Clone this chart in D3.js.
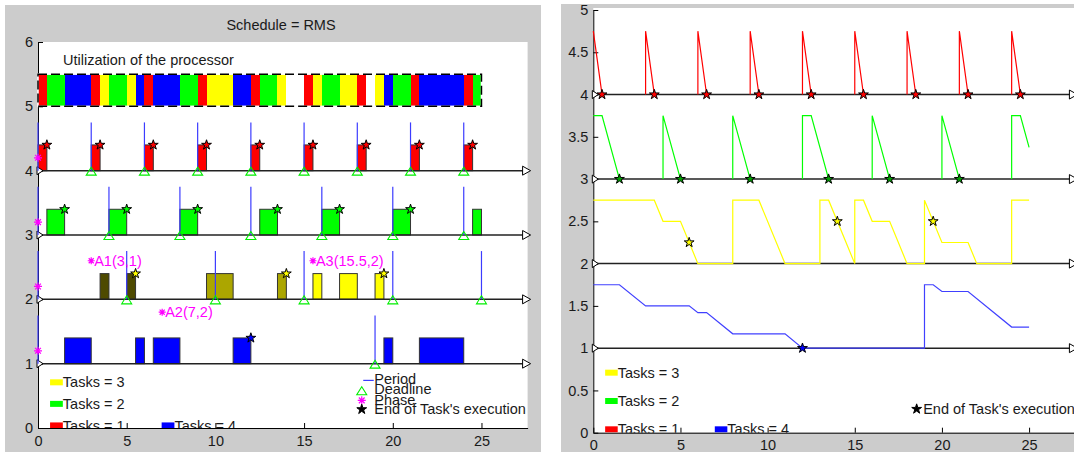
<!DOCTYPE html>
<html>
<head>
<meta charset="utf-8">
<script src="https://cdn.jsdelivr.net/npm/d3@7/dist/d3.min.js"></script>
<style>
  body { margin: 0; background: #fff; }
  svg text { font-family: "Liberation Sans", Arial, sans-serif; }
</style>
</head>
<body>
<svg id="chart" width="1074" height="452"></svg>
<script>
// ---- values ----
const xTicks = [0, 5, 10, 15, 20, 25];
const yTicksSchedule = [0, 1, 2, 3, 4, 5, 6];
const yTicksRemaining = [0, 0.5, 1, 1.5, 2, 2.5, 3, 3.5, 4, 4.5, 5];

const taskLabels = ["Tasks = 1", "Tasks = 2", "Tasks = 3", "Tasks = 4"];
const taskColors = ["#ff0000", "#00ff00", "#ffff00", "#0000ff"];
const curveColors = ["#ff0000", "#00ff00", "#ffff00", "#4040ff"];
const taskRows = [4, 3, 2, 1];

// execution slots [start, end]; task 3 slots carry the aperiodic job index
const execT1 = [[0, 0.5], [3, 3.5], [6, 6.5], [9, 9.5], [12, 12.5], [15, 15.5], [18, 18.5], [21, 21.5], [24, 24.5]];
const execT2 = [[0.5, 1.5], [4, 5], [8, 9], [12.5, 13.5], [16, 17], [20, 21], [24.5, 25]];
const execT3 = [[3.5, 4, 0], [5, 5.5, 0], [9.5, 11, 1], [13.5, 14, 1], [15.5, 16, 2], [17, 18, 2], [19, 19.5, 2]];
const execT4 = [[1.5, 3], [5.5, 6], [6.5, 8], [11, 12], [19.5, 20], [21.5, 24]];

const periodsT1 = [0, 3, 6, 9, 12, 15, 18, 21, 24];
const periodsT2 = [0, 4, 8, 12, 16, 20, 24];
const periodsT3 = [0, 5, 10, 15, 20, 25];
const periodsT4 = [0, 19];

const deadlinesT1 = [3, 6, 9, 12, 15, 18, 21, 24];
const deadlinesT2 = [4, 8, 12, 16, 20, 24];
const deadlinesT3 = [5, 10, 15, 20, 25];
const deadlinesT4 = [19];

const endsT1 = [0.5, 3.5, 6.5, 9.5, 12.5, 15.5, 18.5, 21.5, 24.5];
const endsT2 = [1.5, 5, 9, 13.5, 17, 21];
const endsT3 = [5.5, 14, 19.5];
const endsT4 = [12];

const aperiodicShades = ["#4e4a00", "#aca600", "#ffff00"];
const aperiodicNotes = ["A1(3,1)", "A2(7,2)", "A3(15.5,2)"];
const aperiodicArrival = [3, 7, 15.5];
const aperiodicNoteY = [2.6, 1.8, 2.6];

// right panel: remaining work curves (null = break in the line)
const remT1 = [[0, 4.75], [0.5, 4], null, [3, 4], [3, 4.75], [3.5, 4], null, [6, 4], [6, 4.75], [6.5, 4], null,
  [9, 4], [9, 4.75], [9.5, 4], null, [12, 4], [12, 4.75], [12.5, 4], null, [15, 4], [15, 4.75], [15.5, 4], null,
  [18, 4], [18, 4.75], [18.5, 4], null, [21, 4], [21, 4.75], [21.5, 4], null, [24, 4], [24, 4.75], [24.5, 4]];
const remT2 = [[0, 3.75], [0.5, 3.75], [1.5, 3], null, [4, 3], [4, 3.75], [5, 3], null, [8, 3], [8, 3.75], [9, 3], null,
  [12, 3], [12, 3.75], [12.5, 3.75], [13.5, 3], null, [16, 3], [16, 3.75], [17, 3], null,
  [20, 3], [20, 3.75], [21, 3], null, [24, 3], [24, 3.75], [24.5, 3.75], [25, 3.375]];
const remT3 = [[0, 2.75], [3.5, 2.75], [4, 2.5], [5, 2.5], [6, 2], [8, 2], [8, 2.75], [9.5, 2.75], [11, 2], [13, 2],
  [13, 2.75], [13.5, 2.75], [15, 2], [15, 2.75], [15.5, 2.75], [16, 2.5], [17, 2.5], [18, 2], [19, 2], [19, 2.75],
  [20, 2.25], [21.5, 2.25], [22, 2], [24, 2], [24, 2.75], [25, 2.75]];
const remT4 = [[0, 1.75], [1.5, 1.75], [3, 1.5], [5.5, 1.5], [6, 1.42], [6.5, 1.42], [8, 1.17], [11, 1.17], [12, 1],
  [19, 1], [19, 1.75], [19.5, 1.75], [20, 1.67], [21.5, 1.67], [24, 1.25], [25, 1.25]];

const remEndT1 = [4, 4, 4, 4, 4, 4, 4, 4, 4];
const remEndT2 = [3, 3, 3, 3, 3, 3];
const remEndT3 = [2.25, 2.5, 2.5];
const remEndT4 = [1];

const tasks = [
  { exec: execT1, periods: periodsT1, deadlines: deadlinesT1, ends: endsT1, rem: remT1, remEnd: remEndT1 },
  { exec: execT2, periods: periodsT2, deadlines: deadlinesT2, ends: endsT2, rem: remT2, remEnd: remEndT2 },
  { exec: execT3, periods: periodsT3, deadlines: deadlinesT3, ends: endsT3, rem: remT3, remEnd: remEndT3 },
  { exec: execT4, periods: periodsT4, deadlines: deadlinesT4, ends: endsT4, rem: remT4, remEnd: remEndT4 }
];

// ---- drawing ----
const svg = d3.select("#chart");
const FS = "14.5px";
const TXT = "#1a1a1a";
const star = d3.symbol(d3.symbolStar).size(30);
const triUp = "M-5,4L5,4L0,-4Z";
function asterisk(r) {
  const d = r * 0.72;
  return `M${-r},0H${r}M0,${-r}V${r}M${-d},${-d}L${d},${d}M${-d},${d}L${d},${-d}`;
}

const defs = svg.append("defs");
defs.append("clipPath").attr("id", "clipL").append("rect").attr("x", 0).attr("y", 0).attr("width", 541).attr("height", 428);
defs.append("clipPath").attr("id", "clipR").append("rect").attr("x", 561).attr("y", 0).attr("width", 513).attr("height", 432.7);

function drawAxes(g, x, y, yTicks, pad) {
  const ax = g.append("g").attr("transform", `translate(0,${y.range()[0]})`)
    .call(d3.axisBottom(x).tickValues(xTicks).tickSizeInner(-5).tickSizeOuter(0).tickPadding(pad).tickFormat(d => String(d)));
  const ay = g.append("g").attr("transform", `translate(${x.range()[0]},0)`)
    .call(d3.axisLeft(y).tickValues(yTicks).tickSizeInner(-5).tickSizeOuter(0).tickPadding(5).tickFormat(d => String(d)));
  [ax, ay].forEach(a => {
    a.attr("font-family", null).attr("font-size", null);
    a.selectAll("text").style("font-size", FS).attr("fill", TXT);
    a.selectAll("line, path").attr("stroke", "#000");
  });
}

function drawRows(g, x, y) {
  const xEnd = x.domain()[1];
  taskRows.forEach(r => {
    g.append("line").attr("x1", x(0)).attr("x2", x(xEnd)).attr("y1", y(r)).attr("y2", y(r))
      .attr("stroke", "#222").attr("stroke-width", 1.5);
    g.append("path").attr("d", `M${x(0) - 1},${y(r) - 4}L${x(0) + 5},${y(r)}L${x(0) - 1},${y(r) + 4}Z`)
      .attr("fill", "#fff").attr("stroke", "#000");
    g.append("path").attr("d", `M${x(xEnd) - 5},${y(r) - 4.5}L${x(xEnd) + 3},${y(r)}L${x(xEnd) - 5},${y(r) + 4.5}Z`)
      .attr("fill", "#fff").attr("stroke", "#000");
  });
}

function drawTaskLegend(g, x, y) {
  const items = [[2, 0.71, 0.68], [1, 0.375, 0.68], [0, 0.04, 0.68], [3, 0.04, 6.97]];
  items.forEach(([k, v, t]) => {
    g.append("rect").attr("x", x(t)).attr("y", y(v) - 3).attr("width", x(t + 0.72) - x(t)).attr("height", 6)
      .attr("fill", taskColors[k]);
    g.append("text").attr("x", x(t + 0.72)).attr("y", y(v)).attr("dy", "0.35em")
      .style("font-size", FS).attr("fill", TXT).text(taskLabels[k]);
  });
}

// ===== left panel: schedule =====
const xL = d3.scaleLinear().domain([0, 27.6]).range([38, 527.6]);
const yL = d3.scaleLinear().domain([0, 6]).range([428, 42]);

svg.append("rect").attr("x", 5).attr("y", 5).attr("width", 536).attr("height", 447).attr("fill", "#cccccc");
svg.append("rect").attr("x", xL(0)).attr("y", yL(6)).attr("width", xL(27.6) - xL(0)).attr("height", yL(0) - yL(6)).attr("fill", "#fff");
svg.append("text").attr("x", 281).attr("y", 25).attr("dy", "0.35em").attr("text-anchor", "middle")
  .style("font-size", FS).attr("fill", TXT).text("Schedule = RMS");

const left = svg.append("g");
drawAxes(left, xL, yL, yTicksSchedule, 8);

left.append("text").attr("x", xL(1.41)).attr("y", yL(5.72)).attr("dy", "0.35em")
  .style("font-size", FS).attr("fill", TXT).text("Utilization of the processor");

// processor utilization strip
const utilSlots = [];
tasks.forEach((tk, i) => tk.exec.forEach(s => utilSlots.push([s[0], s[1], i])));
left.selectAll(".util").data(utilSlots).join("rect").attr("class", "util")
  .attr("x", d => xL(d[0])).attr("width", d => xL(d[1]) - xL(d[0]))
  .attr("y", yL(5.5)).attr("height", yL(5) - yL(5.5))
  .attr("fill", d => taskColors[d[2]]).attr("shape-rendering", "crispEdges");
left.append("rect").attr("x", xL(0)).attr("y", yL(5.5)).attr("width", xL(25) - xL(0)).attr("height", yL(5) - yL(5.5))
  .attr("fill", "none").attr("stroke", "#fff").attr("stroke-width", 1.5);
left.append("rect").attr("x", xL(0)).attr("y", yL(5.5)).attr("width", xL(25) - xL(0)).attr("height", yL(5) - yL(5.5))
  .attr("fill", "none").attr("stroke", "#000").attr("stroke-width", 1.5).attr("stroke-dasharray", "9,4");

tasks.forEach((tk, i) => {
  const r = taskRows[i];
  left.selectAll(null).data(tk.exec).join("rect")
    .attr("x", d => xL(d[0])).attr("width", d => xL(d[1]) - xL(d[0]))
    .attr("y", yL(r + 0.4)).attr("height", yL(r) - yL(r + 0.4))
    .attr("fill", d => i === 2 ? aperiodicShades[d[2]] : taskColors[i])
    .attr("stroke", "#333").attr("stroke-width", 1);
});
drawRows(left, xL, yL);

tasks.forEach((tk, i) => {
  const r = taskRows[i];
  left.selectAll(null).data(tk.periods).join("line")
    .attr("x1", d => xL(d)).attr("x2", d => xL(d)).attr("y1", yL(r)).attr("y2", yL(r + 0.75))
    .attr("stroke", "#3c3cff").attr("stroke-width", 1.2);
  left.selectAll(null).data(tk.deadlines).join("path")
    .attr("transform", d => `translate(${xL(d)},${yL(r) + 0.5})`).attr("d", triUp)
    .attr("fill", "none").attr("stroke", "#00ee00").attr("stroke-width", 1.1);
  left.append("path").attr("transform", `translate(${xL(0)},${yL(r + 0.2)})`).attr("d", asterisk(4))
    .attr("stroke", "#ff00ff").attr("stroke-width", 1.2);
  left.selectAll(null).data(tk.ends).join("path")
    .attr("transform", d => `translate(${xL(d)},${yL(r + 0.4)})`).attr("d", star())
    .attr("fill", taskColors[i]).attr("stroke", "#000").attr("stroke-width", 1);
});

// aperiodic arrivals
aperiodicNotes.forEach((txt, k) => {
  const px = xL(aperiodicArrival[k]), py = yL(aperiodicNoteY[k]);
  left.append("path").attr("transform", `translate(${px},${py})`).attr("d", asterisk(3.5))
    .attr("stroke", "#ff00ff").attr("stroke-width", 1.2);
  left.append("text").attr("x", px + 3).attr("y", py).attr("dy", "0.35em")
    .style("font-size", FS).attr("fill", "#ff00ff").text(txt);
});

// legends
const legL = left.append("g").attr("clip-path", "url(#clipL)");
drawTaskLegend(legL, xL, yL);
const lx = xL(18.25);
const markL = [["Period", 0.76], ["Deadline", 0.6], ["Phase", 0.44], ["End of Task's execution", 0.29]];
legL.append("line").attr("x1", lx + 1.5).attr("x2", lx + 12).attr("y1", yL(0.74)).attr("y2", yL(0.74))
  .attr("stroke", "#3c3cff").attr("stroke-width", 1.2);
legL.append("path").attr("transform", `translate(${lx},${yL(0.58)})`).attr("d", triUp)
  .attr("fill", "none").attr("stroke", "#00ee00").attr("stroke-width", 1.1);
legL.append("path").attr("transform", `translate(${lx},${yL(0.43)})`).attr("d", asterisk(4))
  .attr("stroke", "#ff00ff").attr("stroke-width", 1.2);
legL.append("path").attr("transform", `translate(${lx},${yL(0.29)})`).attr("d", star())
  .attr("fill", "#000").attr("stroke", "#000");
markL.forEach(([t, v]) => legL.append("text").attr("x", lx + 12.5).attr("y", yL(v)).attr("dy", "0.35em")
  .style("font-size", FS).attr("fill", TXT).text(t));

// ===== right panel: remaining execution =====
const xR = d3.scaleLinear().domain([0, 27.6]).range([593.3, 1074.4]);
const yR = d3.scaleLinear().domain([0, 5]).range([432.7, 10]);

svg.append("rect").attr("x", 561).attr("y", 4).attr("width", 513).attr("height", 448).attr("fill", "#cccccc");
svg.append("rect").attr("x", xR(0)).attr("y", 8).attr("width", 1074 - xR(0)).attr("height", yR(0) - 8).attr("fill", "#fff");

const right = svg.append("g");
drawAxes(right, xR, yR, yTicksRemaining, 7);
drawRows(right, xR, yR);

const line = d3.line().defined(d => d !== null).x(d => xR(d[0])).y(d => yR(d[1]));
tasks.forEach((tk, i) => {
  right.append("path").attr("d", line(tk.rem)).attr("fill", "none")
    .attr("stroke", curveColors[i]).attr("stroke-width", 1.2);
});
tasks.forEach((tk, i) => {
  right.selectAll(null).data(tk.ends).join("path")
    .attr("transform", (d, j) => `translate(${xR(d)},${yR(tk.remEnd[j])})`).attr("d", star())
    .attr("fill", i === 3 ? "#0000ff" : (i === 1 ? "#00a000" : taskColors[i])).attr("stroke", "#000");
});

const legR = right.append("g").attr("clip-path", "url(#clipR)");
drawTaskLegend(legR, xR, yR);
legR.append("path").attr("transform", `translate(${xR(18.55)},${yR(0.28)})`).attr("d", star())
  .attr("fill", "#000").attr("stroke", "#000");
legR.append("text").attr("x", xR(18.55) + 6.5).attr("y", yR(0.28)).attr("dy", "0.35em")
  .style("font-size", FS).attr("fill", TXT).text("End of Task's execution");
</script>
</body>
</html>
